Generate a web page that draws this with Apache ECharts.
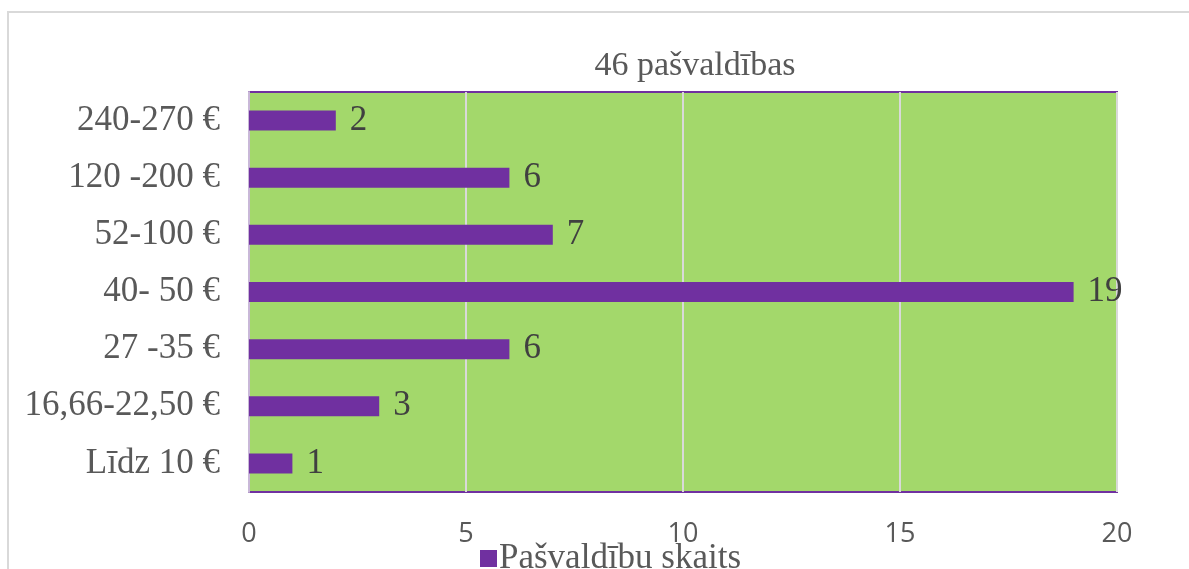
<!DOCTYPE html>
<html>
<head>
<meta charset="utf-8">
<script src="https://cdn.jsdelivr.net/npm/echarts@6/dist/echarts.min.js"></script>
<style>
  html, body { margin: 0; padding: 0; background: #fff; }
  #chart { width: 1189px; height: 569px; }
</style>
</head>
<body>
<div id="chart"></div>
<script>
// price ranges, bottom to top
var categories = ['Līdz 10 €', '16,66-22,50 €', '27 -35 €', '40- 50 €', '52-100 €', '120 -200 €', '240-270 €'];
var counts = [1, 3, 6, 19, 7, 6, 2];
var xTicks = [0, 5, 10, 15, 20];

var serif = '"Liberation Serif", "Times New Roman", serif';

var chart = echarts.init(document.getElementById('chart'));
var option = {
  backgroundColor: '#fff',
  animation: false,
  title: {
    text: '46 pašvaldības',
    left: 690,
    textAlign: 'center',
    top: 44,
    textStyle: { fontFamily: serif, fontSize: 34, fontWeight: 'normal', color: '#595959' }
  },
  legend: {
    data: ['Pašvaldību skaits'],
    left: 475,
    top: 536,
    icon: 'rect',
    itemWidth: 17,
    itemHeight: 17,
    itemGap: 6,
    textStyle: { fontFamily: serif, fontSize: 35, color: '#595959', padding: [0, 0, 0, -3] }
  },
  graphic: [{
    type: 'rect',
    shape: { x: 8, y: 12, width: 1300, height: 700 },
    style: { fill: 'none', stroke: '#d9d9d9', lineWidth: 2 },
    silent: true
  }],
  grid: {
    left: 249,
    right: 72,
    top: 92,
    bottom: 77,
    show: true,
    backgroundColor: '#A3D86B',
    borderColor: '#7030A0',
    borderWidth: 2
  },
  xAxis: {
    type: 'value',
    min: 0,
    max: 20,
    interval: 5,
    axisLine: { show: false },
    axisTick: { show: false },
    splitLine: { show: true, lineStyle: { color: '#d9d9d9', width: 2 } },
    axisLabel: {
      margin: 29,
      fontFamily: '"Open Sans", "Noto Sans", sans-serif',
      fontSize: 27,
      color: '#595959',
      formatter: function (v) { return xTicks.indexOf(v) >= 0 ? String(v) : ''; }
    }
  },
  yAxis: {
    type: 'category',
    data: categories,
    axisLine: { show: true, lineStyle: { color: '#c9b8d8', width: 2 } },
    axisTick: { show: false },
    axisLabel: {
      margin: 29,
      fontFamily: serif,
      fontSize: 35,
      color: '#595959'
    }
  },
  series: [{
    name: 'Pašvaldību skaits',
    type: 'bar',
    data: counts,
    barWidth: 20,
    itemStyle: { color: '#7030A0' },
    label: {
      show: true,
      position: 'right',
      distance: 14,
      fontFamily: serif,
      fontSize: 35,
      color: '#404040'
    }
  }]
};
chart.setOption(option);
</script>
</body>
</html>
